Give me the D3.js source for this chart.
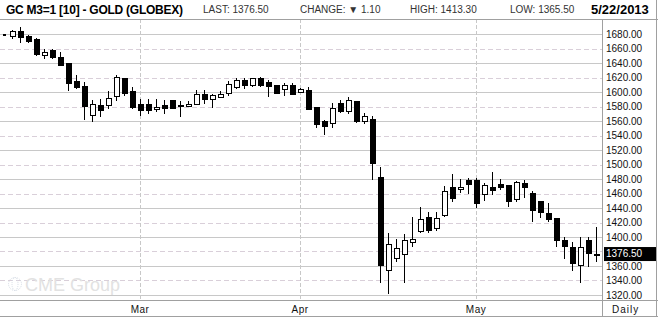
<!DOCTYPE html>
<html>
<head>
<meta charset="utf-8">
<script src="https://cdn.jsdelivr.net/npm/d3@7/dist/d3.min.js"></script>
<style>
body { margin: 0; background: #fff; }
svg { display: block; font-family: "Liberation Sans", Arial, sans-serif; }
</style>
</head>
<body>
<svg id="chart"></svg>
<script>
var width = 658;
var height = 320;

// trading days, Feb 5 - May 22 2013
var dates = ["2/5","2/6","2/7","2/8","2/11","2/12","2/13","2/14","2/15","2/19","2/20","2/21","2/22","2/25","2/26","2/27","2/28",
  "3/1","3/4","3/5","3/6","3/7","3/8","3/11","3/12","3/13","3/14","3/15","3/18","3/19","3/20","3/21","3/22","3/25","3/26","3/27","3/28",
  "4/1","4/2","4/3","4/4","4/5","4/8","4/9","4/10","4/11","4/12","4/15","4/16","4/17","4/18","4/19","4/22","4/23","4/24","4/25","4/26","4/29","4/30",
  "5/1","5/2","5/3","5/6","5/7","5/8","5/9","5/10","5/13","5/14","5/15","5/16","5/17","5/20","5/21","5/22"];

var opens = [1679,1677,1684,1677,1673,1651,1657,1647,1640,1614,1608,1567,1582,1581,1594,1618,1601,
  1583,1583,1575.5,1581,1588,1582,1580.5,1583,1596,1590,1592.5,1598,1606.5,1616.5,1608.5,1619,1613.5,1609.5,1603,1609.5,
  1599.5,1602,1579,1560,1556,1583.5,1573,1586.5,1559,1562,1482,1354,1370.5,1376,1392.5,1407.5,1427,1412,1429.5,1468.5,1466,1478.5,
  1477.5,1458,1468,1472.5,1471.5,1452,1474,1459.5,1448.5,1432.5,1426,1395,1386,1360.5,1394.5,1374.5];
var highs = [1679.5,1685.5,1689,1679,1674,1659,1659,1655,1640,1623,1614,1589,1590,1602,1623,1620,1607,
  1590,1590,1590,1589,1589,1588,1588,1603,1603,1597,1601,1615,1619,1619,1620,1621,1616.5,1610,1612,1612,
  1605,1606.5,1579,1561.5,1584.5,1589,1592.5,1588,1570.5,1567,1496,1405,1397,1404,1427,1441.5,1435,1434.5,1470.5,1486.5,1480,1481.5,
  1481,1474,1490,1479.5,1472,1477.5,1478.5,1463.5,1449,1446.5,1426,1400.5,1393.5,1400.5,1400.5,1413.3];
var lows = [1678.5,1673.5,1668,1668,1649,1645,1645,1636,1602,1604,1562,1558,1566,1577,1588,1595,1577,
  1567,1570,1573,1570,1576,1565,1580,1583,1584,1578.5,1592.5,1594.5,1604,1604,1607,1607,1592.5,1598,1594.5,1597,
  1598,1575.5,1551,1540.5,1551,1570.5,1569.5,1557,1555.5,1478.5,1336,1321.5,1366,1336,1386.5,1405,1405,1408.5,1427,1448.5,1461,1460,
  1440.5,1449.5,1458,1465,1441.5,1448.5,1453.5,1420.5,1426,1421,1386.5,1369.5,1353.5,1337,1359,1365.5];
var closes = [1678.5,1683,1675,1670,1652,1655,1648,1637,1612,1606,1580,1583,1574,1591,1620,1598,1579,
  1575,1575,1579,1577,1577,1580,1583,1597,1590,1595,1597,1610,1616.5,1609.5,1618,1608.5,1607,1598,1609.5,1597,
  1603.5,1576,1554.5,1552,1577.5,1573,1588,1559,1566,1501.5,1360.5,1389,1384.5,1394.5,1397,1423.5,1408.5,1426,1462.5,1453.5,1468.5,1472.5,
  1446.5,1470.5,1464,1468.5,1448.5,1475.5,1468.5,1436.5,1433.5,1423.5,1395,1386.5,1363.5,1386,1377.6,1376.5];

var priceTicks = [1320,1340,1360,1380,1400,1420,1440,1460,1480,1500,1520,1540,1560,1580,1600,1620,1640,1660,1680];
var monthStarts = ["3/1","4/1","5/1"];
var monthLabels = ["Mar","Apr","May"];

var lastPrice = 1376.50;
var headerStats = [
  {text: "LAST: 1376.50", x: 203},
  {text: "CHANGE: \u25BC 1.10", x: 300},
  {text: "HIGH: 1413.30", x: 410},
  {text: "LOW: 1365.50", x: 510}
];

var candles = dates.map(function(d, i) {
  return {date: d, o: opens[i], h: highs[i], l: lows[i], c: closes[i]};
});

var plotTop = 19, plotBottom = 300, plotRight = 602;

var svg = d3.select("#chart")
    .attr("width", width)
    .attr("height", height);

var x = d3.scalePoint()
    .domain(dates)
    .range([4, 596]);

var y = d3.scaleLinear()
    .domain([1313.1, 1700.7])
    .range([plotBottom, plotTop]);

// horizontal grid
svg.append("g")
  .selectAll("line")
  .data(priceTicks)
  .enter().append("line")
    .attr("x1", 0)
    .attr("x2", plotRight)
    .attr("y1", function(d) { return Math.round(y(d)) + 0.5; })
    .attr("y2", function(d) { return Math.round(y(d)) + 0.5; })
    .attr("stroke", function(d, i) { return i % 2 ? "#d9cfd9" : "#c8c8c8"; })
    .attr("stroke-dasharray", function(d, i) { return i % 2 ? "5,3" : null; });

// month grid
svg.append("g")
  .selectAll("line")
  .data(monthStarts)
  .enter().append("line")
    .attr("x1", function(d) { return x(d) + 0.5; })
    .attr("x2", function(d) { return x(d) + 0.5; })
    .attr("y1", plotTop)
    .attr("y2", plotBottom)
    .attr("stroke", "#c8c8c8")
    .attr("stroke-dasharray", "4,2");

// watermark
var wm = svg.append("g").attr("fill", "none").attr("stroke", "#d6dde6");
wm.append("circle").attr("cx", 15).attr("cy", 284).attr("r", 6.5).attr("stroke-dasharray", "1,1");
wm.append("ellipse").attr("cx", 15).attr("cy", 284).attr("rx", 3).attr("ry", 6.5).attr("stroke-dasharray", "1,1");
svg.append("text")
    .attr("x", 25)
    .attr("y", 291)
    .attr("font-size", 18)
    .attr("fill", "#e2e2e2")
    .text("CME Group");

// frame
var frame = svg.append("g").attr("stroke", "#a0a0a0").attr("shape-rendering", "crispEdges");
frame.append("line").attr("x1", 0).attr("x2", width).attr("y1", 19.5).attr("y2", 19.5);
frame.append("line").attr("x1", 0).attr("x2", width).attr("y1", 300.5).attr("y2", 300.5);
frame.append("line").attr("x1", 0).attr("x2", width).attr("y1", 316.5).attr("y2", 316.5);
frame.append("line").attr("x1", 602.5).attr("x2", 602.5).attr("y1", 19).attr("y2", 317);
frame.append("line").attr("x1", 656.5).attr("x2", 656.5).attr("y1", 0).attr("y2", 317);

// candles
var g = svg.append("g").attr("shape-rendering", "crispEdges");
var c = g.selectAll("g.candle")
  .data(candles)
  .enter().append("g")
    .attr("class", "candle");

c.append("line")
    .attr("x1", function(d) { return x(d.date) + 0.5; })
    .attr("x2", function(d) { return x(d.date) + 0.5; })
    .attr("y1", function(d) { return y(d.h); })
    .attr("y2", function(d) { return y(d.l); })
    .attr("stroke", "#000");

c.append("rect")
    .attr("x", function(d, i) { return i === 0 ? x(d.date) - 1 : x(d.date) - 2; })
    .attr("width", function(d, i) { return i === 0 ? 2 : 5; })
    .attr("y", function(d) { return y(Math.max(d.o, d.c)); })
    .attr("height", function(d) { return Math.max(1, y(Math.min(d.o, d.c)) - y(Math.max(d.o, d.c))); })
    .attr("fill", function(d) { return d.c >= d.o ? "#fff" : "#000"; })
    .attr("stroke", "#000");

// y axis (the 1380 label sits under the last price tag)
var yAxis = d3.axisRight(y)
    .tickValues(priceTicks.filter(function(d) { return Math.abs(y(d) - y(lastPrice)) > 8; }))
    .tickFormat(d3.format(".2f"))
    .tickSize(0)
    .tickPadding(0);

var ya = svg.append("g")
    .attr("transform", "translate(606,0)")
    .call(yAxis);
ya.select(".domain").remove();
ya.selectAll("text")
    .attr("font-size", 10)
    .attr("font-family", "Liberation Sans, Arial, sans-serif")
    .attr("fill", "#111");

// last price tag
svg.append("rect")
    .attr("x", 604)
    .attr("y", y(lastPrice) - 7)
    .attr("width", 52)
    .attr("height", 14)
    .attr("fill", "#000");
svg.append("text")
    .attr("x", 606)
    .attr("y", y(lastPrice))
    .attr("dy", "0.32em")
    .attr("font-size", 10)
    .attr("fill", "#fff")
    .text(d3.format(".2f")(lastPrice));

// x axis labels
svg.append("g")
  .selectAll("text")
  .data(monthStarts)
  .enter().append("text")
    .attr("x", function(d) { return x(d); })
    .attr("y", 313)
    .attr("text-anchor", "middle")
    .attr("font-size", 10)
    .attr("letter-spacing", 0.5)
    .attr("fill", "#111")
    .text(function(d, i) { return monthLabels[i]; });

svg.append("text")
    .attr("x", 612)
    .attr("y", 313)
    .attr("font-size", 10)
    .attr("letter-spacing", 1)
    .attr("fill", "#111")
    .text("Daily");

// header
svg.append("text")
    .attr("x", 6)
    .attr("y", 13.5)
    .attr("font-size", 12)
    .attr("font-weight", "bold")
    .attr("textLength", 177)
    .attr("fill", "#000")
    .text("GC M3=1 [10] - GOLD (GLOBEX)");

svg.append("g")
  .selectAll("text")
  .data(headerStats)
  .enter().append("text")
    .attr("x", function(d) { return d.x; })
    .attr("y", 12.5)
    .attr("font-size", 10)
    .attr("fill", "#333")
    .text(function(d) { return d.text; });

svg.append("text")
    .attr("x", 591)
    .attr("y", 13.5)
    .attr("font-size", 13)
    .attr("font-weight", "bold")
    .attr("fill", "#000")
    .text("5/22/2013");
</script>
</body>
</html>
